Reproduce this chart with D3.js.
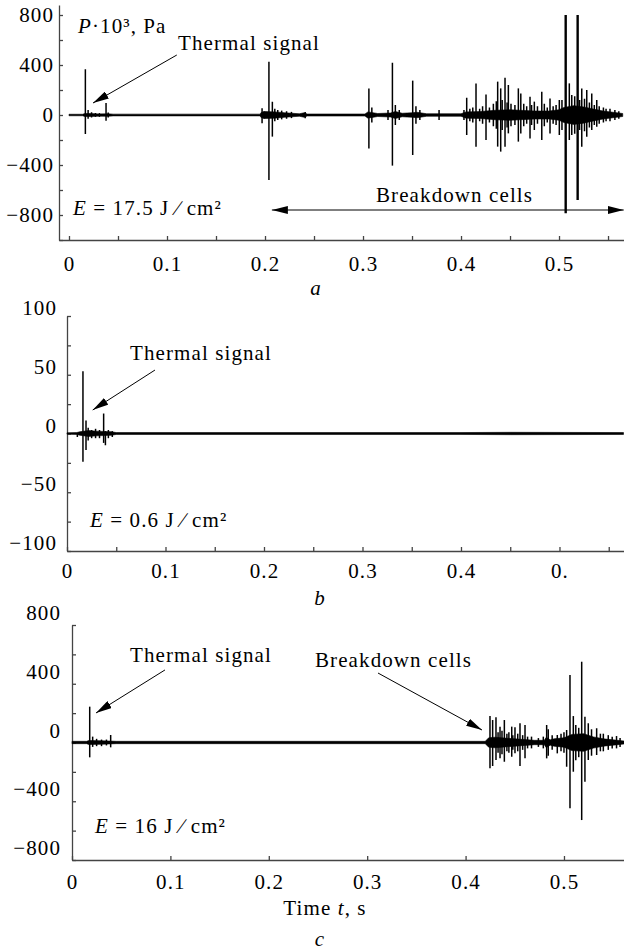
<!DOCTYPE html>
<html>
<head>
<meta charset="utf-8">
<script src="https://cdn.jsdelivr.net/npm/d3@7"></script>
<style>
  body { margin: 0; background: #fff; }
  svg text { font-family: "Liberation Serif", "DejaVu Serif", serif; font-size: 21px; letter-spacing: 1.1px; fill: #000; }
</style>
</head>
<body>
<svg id="chart"></svg>
<script>
// ---- panel a (E = 17.5 J/cm2) ----
let spikeTimeA = [0.0167, 0.0195, 0.023, 0.027, 0.031, 0.0378, 0.040,
  0.197, 0.199, 0.204, 0.2075, 0.210, 0.213, 0.217, 0.222, 0.227, 0.241,
  0.306, 0.309, 0.3255, 0.330, 0.333, 0.337, 0.3507, 0.354, 0.358, 0.3776,
  0.403, 0.4058, 0.409, 0.412, 0.4153, 0.419, 0.422, 0.4255, 0.429, 0.433, 0.436, 0.4374,
  0.4405, 0.442, 0.4449, 0.447, 0.4483, 0.451, 0.455, 0.4585, 0.461, 0.464, 0.467, 0.4704,
  0.472, 0.4748, 0.478, 0.4824, 0.485, 0.488, 0.4908, 0.494, 0.497, 0.5003, 0.503, 0.5068,
  0.5105, 0.513, 0.516, 0.519, 0.521, 0.5232, 0.526, 0.5283, 0.531, 0.5334, 0.536, 0.5385,
  0.541, 0.5453, 0.548, 0.552, 0.557, 0.561];
let spikeHighA = [366, 40, 22, 16, 15, 96, 20,
  55, 30, 426, 106, 50, 40, 35, 30, 25, 25,
  213, 60, 40, 418, 80, 40, 275, 70, 40, 40,
  40, 138, 50, 60, 253, 50, 70, 165, 60, 90, 110, 267,
  213, 120, 299, 100, 240, 90, 80, 213, 173, 90, 70, 147,
  80, 107, 70, 187, 90, 60, 133, 70, 80, 120, 120, 800,
  253, 160, 150, 800, 120, 213, 130, 200, 100, 173, 80, 120,
  70, 60, 50, 50, 40, 30];
let spikeLowA = [-152, -30, -20, -15, -15, -45, -20,
  -65, -30, -520, -173, -50, -40, -35, -30, -25, -25,
  -267, -60, -40, -405, -80, -40, -320, -70, -40, -40,
  -40, -160, -50, -60, -253, -50, -70, -200, -60, -90, -110, -253,
  -293, -120, -253, -100, -147, -90, -80, -213, -147, -90, -70, -187,
  -80, -120, -70, -200, -90, -60, -147, -70, -80, -160, -120, -786,
  -200, -160, -150, -680, -120, -253, -130, -173, -100, -120, -80, -93,
  -70, -60, -50, -50, -40, -30];
let envTimeA = [0, 0.014, 0.016, 0.022, 0.03, 0.04, 0.045, 0.195, 0.196, 0.2, 0.21, 0.22, 0.235,
  0.24, 0.243, 0.302, 0.305, 0.315, 0.328, 0.333, 0.34, 0.35, 0.355, 0.365, 0.40, 0.405, 0.42,
  0.435, 0.45, 0.46, 0.475, 0.49, 0.5, 0.505, 0.515, 0.525, 0.535, 0.545, 0.555, 0.565];
let envAmpA = [6, 6, 12, 12, 9, 10, 7, 7, 20, 28, 25, 18, 10,
  18, 8, 8, 25, 12, 16, 28, 14, 18, 22, 10, 10, 25, 28,
  38, 42, 38, 32, 32, 42, 60, 75, 65, 48, 32, 22, 12];

// ---- panel b (E = 0.6 J/cm2) ----
let spikeTimeB = [0.0105, 0.0162, 0.0193, 0.0215, 0.025, 0.029, 0.033, 0.0372, 0.039, 0.042, 0.046];
let spikeHighB = [0, 53, 11, 5, 3, 4, 3, 17, 2, 3, 2];
let spikeLowB = [-3, -24, -14, -6, -4, -4, -4, -8, -10, -4, -3];
let envTimeB = [0, 0.01, 0.013, 0.022, 0.03, 0.045, 0.05, 0.4, 0.45, 0.565];
let envAmpB = [0.6, 0.8, 1.5, 2.5, 2, 1.5, 0.8, 0.8, 1, 0.8];

// ---- panel c (E = 16 J/cm2) ----
let spikeTimeC = [0.018, 0.021, 0.025, 0.03, 0.035, 0.0393,
  0.4248, 0.4275, 0.4309, 0.433, 0.435, 0.437, 0.4394, 0.442, 0.444, 0.4469, 0.448, 0.4502,
  0.453, 0.4553, 0.458, 0.4604, 0.463, 0.467, 0.474, 0.479, 0.4824, 0.484, 0.488, 0.4932,
  0.497, 0.5, 0.5027, 0.5061, 0.5095, 0.512, 0.515, 0.518, 0.5213, 0.5247, 0.528, 0.5332,
  0.537, 0.54, 0.545, 0.549, 0.5534, 0.557];
let spikeHighC = [244, 40, 25, 20, 20, 51,
  180, 153, 172, 70, 108, 80, 153, 60, 70, 108, 50, 104,
  60, 131, 50, 119, 40, 40, 30, 40, 119, 90, 50, 51,
  60, 70, 85, 460, 180, 120, 100, 550, 176, 131, 90, 97,
  60, 60, 50, 40, 44, 30];
let spikeLowC = [-101, -30, -25, -25, -20, -33,
  -176, -160, -119, -70, -108, -80, -131, -60, -70, -97, -50, -74,
  -60, -160, -50, -108, -40, -40, -30, -40, -108, -90, -50, -74,
  -60, -70, -165, -448, -199, -120, -100, -528, -267, -119, -90, -85,
  -60, -60, -50, -40, -40, -30];
let envTimeC = [0, 0.015, 0.017, 0.03, 0.045, 0.42, 0.4235, 0.43, 0.44, 0.45, 0.46, 0.47, 0.48,
  0.482, 0.486, 0.49, 0.5, 0.508, 0.52, 0.53, 0.54, 0.55, 0.561];
let envAmpC = [8, 8, 14, 12, 8, 8, 32, 36, 30, 25, 20, 15, 15,
  35, 18, 25, 32, 55, 60, 38, 25, 18, 10];

// ---- ticks ----
let xMinor = [0, 0.05, 0.1, 0.15, 0.2, 0.25, 0.3, 0.35, 0.4, 0.45, 0.5, 0.55];
let xMajor = [0, 0.1, 0.2, 0.3, 0.4, 0.5];
let xLabelsAC = ['0', '0.1', '0.2', '0.3', '0.4', '0.5'];
let xLabelsB = ['0', '0.1', '0.2', '0.3', '0.4', '0.'];
let yTicksA = [-1000, -800, -600, -400, -200, 0, 200, 400, 600, 800];
let yLabelsA = [-800, -400, 0, 400, 800];
let yTicksB = [-100, -75, -50, -25, 0, 25, 50, 75, 100];
let yLabelsB = [-100, -50, 0, 50, 100];
let yTicksC = [-800, -600, -400, -200, 0, 200, 400, 600, 800];
let yLabelsC = [-800, -400, 0, 400, 800];

let width = 624, height = 950;
let svg = d3.select('#chart').attr('width', width).attr('height', height);

let defs = svg.append('defs');
defs.append('marker')
  .attr('id', 'head')
  .attr('viewBox', '0 0 16 8')
  .attr('refX', 16).attr('refY', 4)
  .attr('markerWidth', 16).attr('markerHeight', 8)
  .attr('markerUnits', 'userSpaceOnUse')
  .attr('orient', 'auto-start-reverse')
  .append('path').attr('d', 'M0,0 L16,4 L0,8 Z').attr('fill', '#000');

function minus(v) { return v < 0 ? '\u2212' + (-v) : String(v); }

function drawPanel(p) {
  let x = d3.scaleLinear().domain(p.xDomain).range([p.left, width]);
  let y = d3.scaleLinear().domain(p.yDomain).range([p.bottom, p.top]);
  let g = svg.append('g');

  // x axis, ticks pointing inside
  let xa = g.append('g')
    .attr('transform', `translate(0,${p.bottom})`)
    .attr('color', '#444')
    .call(d3.axisBottom(x)
      .tickValues(p.xTicks)
      .tickSize(-4).tickSizeOuter(0)
      .tickFormat(v => {
        let i = xMajor.findIndex(m => Math.abs(m - v) < 1e-9);
        return i < 0 ? '' : p.xLabels[i];
      }));
  xa.selectAll('path, line').attr('stroke-width', 1.3);
  xa.selectAll('text').attr('y', p.xLabelDy).attr('dy', 0);

  // y axis
  let ya = g.append('g')
    .attr('transform', `translate(${p.axisX},0)`)
    .attr('color', '#444')
    .call(d3.axisLeft(y)
      .tickValues(p.yTicks)
      .tickSize(-4).tickSizeOuter(0)
      .tickPadding(p.yPad)
      .tickFormat(v => p.yLabels.includes(v) ? minus(v) : ''));
  ya.selectAll('path, line').attr('stroke-width', 1.3);
  ya.selectAll('text').attr('y', p.yLabelShift);

  // signal envelope (baseline noise)
  let env = p.envTime.map((t, i) => [t, p.envAmp[i]]);
  g.append('path')
    .datum(env)
    .attr('d', d3.area().x(d => x(d[0])).y0(d => y(-d[1])).y1(d => y(d[1])))
    .attr('fill', '#000').attr('stroke', '#000').attr('stroke-width', 0.6);

  // spikes
  let spikes = p.spikeTime.map((t, i) => ({ t: t, hi: p.spikeHigh[i], lo: p.spikeLow[i] }));
  g.selectAll('line.spike')
    .data(spikes)
    .enter()
    .append('line')
    .attr('class', 'spike')
    .attr('x1', d => x(d.t)).attr('x2', d => x(d.t))
    .attr('y1', d => y(d.hi)).attr('y2', d => y(d.lo))
    .attr('stroke', '#000')
    .attr('stroke-width', d => d.hi > 700 ? 2.4 : 1.5);

  // arrows
  p.arrows.forEach(a => {
    g.append('line')
      .attr('x1', x(a[0])).attr('y1', y(a[1]))
      .attr('x2', x(a[2])).attr('y2', y(a[3]))
      .attr('stroke', '#000').attr('stroke-width', 1)
      .attr('marker-end', 'url(#head)')
      .attr('marker-start', a[4] ? 'url(#head)' : null);
  });

  // texts
  p.texts.forEach(t => {
    let el = g.append('text').attr('x', t.x).attr('y', t.y)
      .attr('text-anchor', t.anchor || 'start');
    t.parts.forEach(part => {
      el.append('tspan').text(part[0]).style('font-style', part[1] ? 'italic' : 'normal');
    });
  });
}

drawPanel({
  left: 59, axisX: 59, top: 5, bottom: 240,
  xDomain: [-0.0102, 0.5663], yDomain: [-1000, 880],
  xTicks: xMinor, xLabels: xLabelsAC, xLabelDy: 31,
  yTicks: yTicksA, yLabels: yLabelsA, yPad: 5, yLabelShift: 0,
  envTime: envTimeA, envAmp: envAmpA,
  spikeTime: spikeTimeA, spikeHigh: spikeHighA, spikeLow: spikeLowA,
  arrows: [[0.110, 480, 0.0245, 96, false], [0.207, -760, 0.566, -760, true]],
  texts: [
    { x: 78, y: 33, parts: [['P', true], ['\u00b710\u00b3, Pa', false]] },
    { x: 178, y: 50, parts: [['Thermal signal', false]] },
    { x: 73, y: 215, parts: [['E', true], [' = 17.5 J \u2215 cm\u00b2', false]] },
    { x: 376, y: 202, parts: [['Breakdown cells', false]] },
    { x: 316, y: 295, anchor: 'middle', parts: [['a', true]] }
  ]
});

drawPanel({
  left: 67, axisX: 67, top: 316, bottom: 551,
  xDomain: [0, 0.5655], yDomain: [-100, 100],
  xTicks: xMinor, xLabels: xLabelsB, xLabelDy: 27,
  yTicks: yTicksB, yLabels: yLabelsB, yPad: 10, yLabelShift: -8,
  envTime: envTimeB, envAmp: envAmpB,
  spikeTime: spikeTimeB, spikeHigh: spikeHighB, spikeLow: spikeLowB,
  arrows: [[0.0893, 54, 0.0261, 20, false]],
  texts: [
    { x: 130, y: 360, parts: [['Thermal signal', false]] },
    { x: 90, y: 527, parts: [['E', true], [' = 0.6 J \u2215 cm\u00b2', false]] },
    { x: 320, y: 605, anchor: 'middle', parts: [['b', true]] }
  ]
});

drawPanel({
  left: 72, axisX: 72, top: 625, bottom: 860,
  xDomain: [0, 0.561], yDomain: [-800, 800],
  xTicks: xMajor, xLabels: xLabelsAC, xLabelDy: 29,
  yTicks: yTicksC, yLabels: yLabelsC, yPad: 11, yLabelShift: -12,
  envTime: envTimeC, envAmp: envAmpC,
  spikeTime: spikeTimeC, spikeHigh: spikeHighC, spikeLow: spikeLowC,
  arrows: [[0.0945, 494, 0.0244, 201, false], [0.311, 473, 0.4167, 85, false]],
  texts: [
    { x: 130, y: 662, parts: [['Thermal signal', false]] },
    { x: 315, y: 667, parts: [['Breakdown cells', false]] },
    { x: 95, y: 833, parts: [['E', true], [' = 16 J \u2215 cm\u00b2', false]] },
    { x: 325, y: 915, anchor: 'middle', parts: [['Time ', false], ['t', true], [', s', false]] },
    { x: 320, y: 946, anchor: 'middle', parts: [['c', true]] }
  ]
});
</script>
</body>
</html>
